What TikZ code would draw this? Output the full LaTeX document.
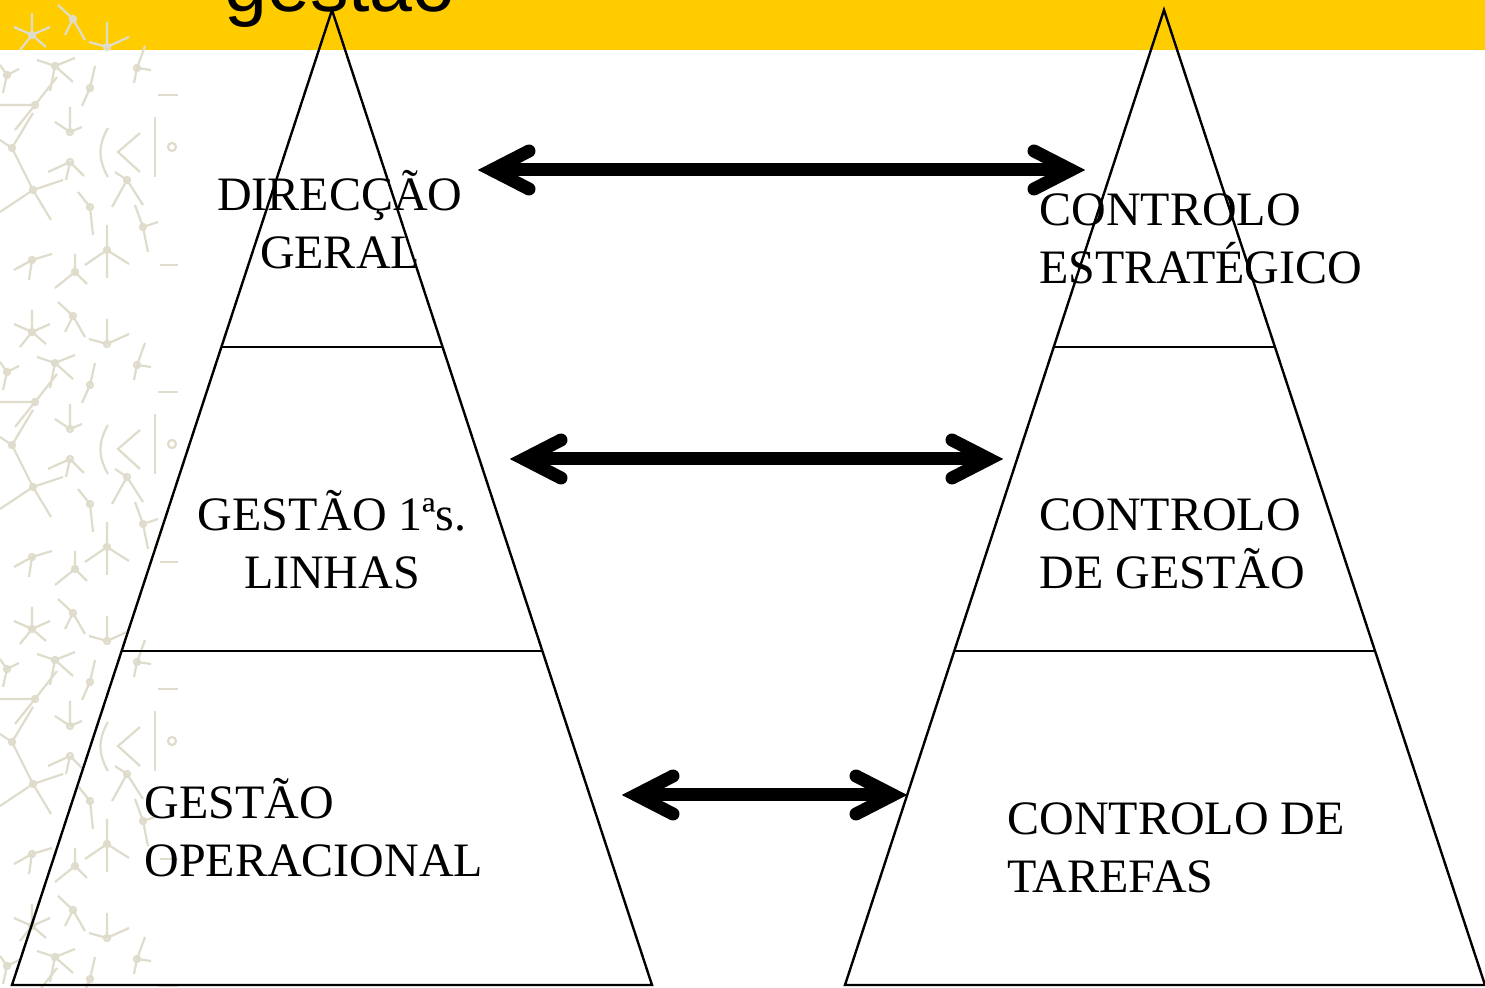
\documentclass[tikz,border=0pt]{standalone}
\usepackage{fontspec}
\setmainfont{Liberation Serif}
\newfontfamily\titlefont{Liberation Sans}
\usetikzlibrary{calc}
\definecolor{bandyellow}{RGB}{255,204,0}
\definecolor{patcol}{RGB}{223,220,204}
\begin{document}
\begin{tikzpicture}[x=0.5pt,y=-0.5pt,
  tri/.style={line width=1.2pt, line join=miter},
  sep/.style={line width=1.1pt},
  shaft/.style={line width=6.5pt},
  barb/.style={line width=6.5pt, line join=miter, line cap=round},
  pat/.style={draw=patcol, line width=1.1pt},
  lbl/.style={inner sep=0pt, font=\fontsize{24}{29}\selectfont}
]
\useasboundingbox (0,0) rectangle (1485,988);
\fill[white] (0,0) rectangle (1485,988);
\fill[bandyellow] (0,0) rectangle (1485,50);
% decorative left strip
\begin{scope}
\clip (0,0) rectangle (178,988);
\foreach \o in {-297,0,297,594,891}{
 \begin{scope}[shift={(0,\o)}]
  \draw[pat] (73,19) circle (3) (73,19) -- ++(-15,-14) (73,19) -- ++(12,21) (73,19) -- ++(-8,16);
  \draw[pat] (32,35) circle (3) (32,35) -- ++(-18,-8) (32,35) -- ++(18,-8) (32,35) -- ++(0,-22) (32,35) -- ++(-12,15) (32,35) -- ++(14,12);
  \draw[pat] (107,47) circle (3) (107,47) -- ++(0,-25) (107,47) -- ++(22,-10) (107,47) -- ++(-18,-5);
  \draw[pat] (137,68) circle (3) (137,68) -- ++(8,-22) (137,68) -- ++(14,2) (137,68) -- ++(-3,15);
  \draw[pat] (55,66) circle (3) (55,66) -- ++(-18,-6) (55,66) -- ++(20,-8) (55,66) -- ++(18,16) (55,66) -- ++(-5,25);
  \draw[pat] (7,75) circle (3) (7,75) -- ++(-7,-10) (7,75) -- ++(12,-6) (7,75) -- ++(-4,18);
  \draw[pat] (90,88) circle (3) (90,88) -- ++(5,-22) (90,88) -- ++(-8,18);
  \draw[pat] (35,105) circle (3) (35,105) -- ++(-35,0) (35,105) -- ++(22,-28) (35,105) -- ++(-20,25);
  \draw[pat] (12,148) circle (3) (12,148) -- ++(21,-35) (12,148) -- ++(21,42) (12,148) -- ++(-12,-8);
  \draw[pat] (70,132) circle (3) (70,132) -- ++(0,-25) (70,132) -- ++(-15,-10) (70,132) -- ++(12,-5);
  \draw[pat] (70,162) circle (3) (70,162) -- ++(-22,10) (70,162) -- ++(14,14) (70,162) -- ++(-4,18);
  \draw[pat] (108,128) .. controls (98,145) and (98,160) .. (108,177);
  \draw[pat] (140,133) -- (118,152) -- (140,172);
  \draw[pat] (172,147) circle (4);
  \draw[pat] (155,117) -- (155,177) (158,95) -- (178,95);
  \draw[pat] (127,180) circle (3) (127,180) -- ++(-15,27) (127,180) -- ++(16,25) (127,180) -- ++(-12,-8);
  \draw[pat] (33,190) circle (3) (33,190) -- ++(-33,22) (33,190) -- ++(30,-10) (33,190) -- ++(18,30);
  \draw[pat] (90,207) circle (3) (90,207) -- ++(3,28) (90,207) -- ++(-12,-15);
  \draw[pat] (107,250) circle (3) (107,250) -- ++(-22,15) (107,250) -- ++(22,14) (107,250) -- ++(0,28) (107,250) -- ++(0,-25);
  \draw[pat] (32,260) circle (3) (32,260) -- ++(-18,10) (32,260) -- ++(20,-6) (32,260) -- ++(-3,20);
  \draw[pat] (143,227) circle (3) (143,227) -- ++(-8,-22) (143,227) -- ++(15,-5) (143,227) -- ++(5,25);
  \draw[pat] (75,272) circle (3) (75,272) -- ++(-20,16) (75,272) -- ++(12,12) (75,272) -- ++(0,-18);
  \draw[pat] (160,265) -- (178,265);
 \end{scope}
}
\end{scope}
% title fragment
\node[anchor=base west, inner sep=0pt, font=\titlefont\fontsize{38.5}{42}\selectfont] (title) at (224,12) {gestão};
% triangles
\coordinate (LA) at (332,10);
\coordinate (LBL) at (12,985);
\coordinate (LBR) at (652,985);
\coordinate (RA) at (1164,10);
\coordinate (RBL) at (845,985);
\coordinate (RBR) at (1485,985);
\draw[tri] (LA) -- (LBL) -- (LBR) -- cycle;
\draw[tri] (RA) -- (RBL) -- (RBR) -- cycle;
\draw[sep] ($(LA)!0.3456!(LBL)$) -- ($(LA)!0.3456!(LBR)$);
\draw[sep] ($(LA)!0.6574!(LBL)$) -- ($(LA)!0.6574!(LBR)$);
\draw[sep] ($(RA)!0.3456!(RBL)$) -- ($(RA)!0.3456!(RBR)$);
\draw[sep] ($(RA)!0.6574!(RBL)$) -- ($(RA)!0.6574!(RBR)$);
% labels (anchor = baseline of the last line)
\node[lbl, align=center, anchor=base] (dg) at (340,269) {DIRECÇÃO\\GERAL};
\node[lbl, align=center, anchor=base] (gl) at (332,589) {GESTÃO 1ªs.\\LINHAS};
\node[lbl, align=left, anchor=base west] (go) at (144,877) {GESTÃO\\OPERACIONAL};
\node[lbl, align=left, anchor=base west] (ce) at (1039,284) {CONTROLO\\ESTRATÉGICO};
\node[lbl, align=left, anchor=base west] (cg) at (1039,589) {CONTROLO\\DE GESTÃO};
\node[lbl, align=left, anchor=base west] (ct) at (1007,893) {CONTROLO DE\\TAREFAS};
% arrows (vertex points of the barbs)
\coordinate (a1l) at (492,170); \coordinate (a1r) at (1071,170);
\coordinate (a2l) at (524,459); \coordinate (a2r) at (989,459);
\coordinate (a3l) at (636,795); \coordinate (a3r) at (893,795);
\foreach \l/\r in {a1l/a1r,a2l/a2r,a3l/a3r}{
  \draw[shaft] (\l) -- (\r);
  \draw[barb] ($(\l)+(37,-19)$) -- (\l) -- ($(\l)+(37,19)$);
  \draw[barb] ($(\r)+(-37,-19)$) -- (\r) -- ($(\r)+(-37,19)$);
}
\end{tikzpicture}
\end{document}
